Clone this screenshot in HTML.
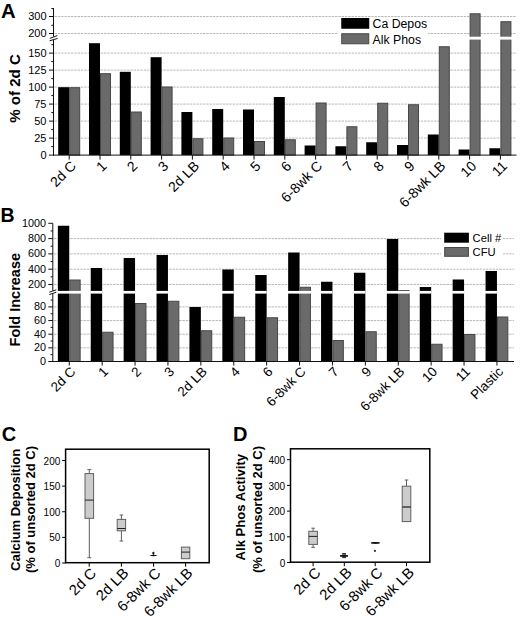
<!DOCTYPE html>
<html><head><meta charset="utf-8"><style>
html,body{margin:0;padding:0;background:#fff;}
body{width:520px;height:620px;overflow:hidden;}
svg{display:block;font-family:"Liberation Sans", sans-serif;}
</style></head><body>
<svg width="520" height="620" viewBox="0 0 520 620">
<rect x="0" y="0" width="520" height="620" fill="#fff"/>
<line x1="54.5" y1="138.1" x2="516.5" y2="138.1" stroke="#b9b9b9" stroke-width="1" stroke-dasharray="2.4 0.9"/>
<line x1="54.5" y1="121.1" x2="516.5" y2="121.1" stroke="#b9b9b9" stroke-width="1" stroke-dasharray="2.4 0.9"/>
<line x1="54.5" y1="104.1" x2="516.5" y2="104.1" stroke="#b9b9b9" stroke-width="1" stroke-dasharray="2.4 0.9"/>
<line x1="54.5" y1="87.1" x2="516.5" y2="87.1" stroke="#b9b9b9" stroke-width="1" stroke-dasharray="2.4 0.9"/>
<line x1="54.5" y1="70.1" x2="516.5" y2="70.1" stroke="#b9b9b9" stroke-width="1" stroke-dasharray="2.4 0.9"/>
<line x1="54.5" y1="53.1" x2="516.5" y2="53.1" stroke="#b9b9b9" stroke-width="1" stroke-dasharray="2.4 0.9"/>
<line x1="54.5" y1="33.5" x2="516.5" y2="33.5" stroke="#b9b9b9" stroke-width="1" stroke-dasharray="2.4 0.9"/>
<line x1="54.5" y1="16.5" x2="516.5" y2="16.5" stroke="#b9b9b9" stroke-width="1" stroke-dasharray="2.4 0.9"/>
<rect x="58.2" y="87.2" width="11" height="67.9" fill="#000"/>
<rect x="69.7" y="87.7" width="10" height="67.4" fill="#6a6a6a" stroke="#474747" stroke-width="1"/>
<rect x="89" y="43.2" width="11" height="111.9" fill="#000"/>
<rect x="100.5" y="73.7" width="10" height="81.4" fill="#6a6a6a" stroke="#474747" stroke-width="1"/>
<rect x="119.8" y="71.8" width="11" height="83.3" fill="#000"/>
<rect x="131.3" y="112" width="10" height="43.1" fill="#6a6a6a" stroke="#474747" stroke-width="1"/>
<rect x="150.6" y="57.2" width="11" height="97.9" fill="#000"/>
<rect x="162.1" y="87" width="10" height="68.1" fill="#6a6a6a" stroke="#474747" stroke-width="1"/>
<rect x="181.4" y="112" width="11" height="43.1" fill="#000"/>
<rect x="192.9" y="138.75" width="10" height="16.35" fill="#6a6a6a" stroke="#474747" stroke-width="1"/>
<rect x="212.2" y="109" width="11" height="46.1" fill="#000"/>
<rect x="223.7" y="138" width="10" height="17.1" fill="#6a6a6a" stroke="#474747" stroke-width="1"/>
<rect x="243" y="109.5" width="11" height="45.6" fill="#000"/>
<rect x="254.5" y="141.5" width="10" height="13.6" fill="#6a6a6a" stroke="#474747" stroke-width="1"/>
<rect x="273.8" y="97" width="11" height="58.1" fill="#000"/>
<rect x="285.3" y="139.75" width="10" height="15.35" fill="#6a6a6a" stroke="#474747" stroke-width="1"/>
<rect x="304.6" y="145.5" width="11" height="9.6" fill="#000"/>
<rect x="316.1" y="103" width="10" height="52.1" fill="#6a6a6a" stroke="#474747" stroke-width="1"/>
<rect x="335.4" y="146.25" width="11" height="8.85" fill="#000"/>
<rect x="346.9" y="126.75" width="10" height="28.35" fill="#6a6a6a" stroke="#474747" stroke-width="1"/>
<rect x="366.2" y="142.25" width="11" height="12.85" fill="#000"/>
<rect x="377.7" y="103.25" width="10" height="51.85" fill="#6a6a6a" stroke="#474747" stroke-width="1"/>
<rect x="397" y="145" width="11" height="10.1" fill="#000"/>
<rect x="408.5" y="104.75" width="10" height="50.35" fill="#6a6a6a" stroke="#474747" stroke-width="1"/>
<rect x="427.8" y="134.5" width="11" height="20.6" fill="#000"/>
<rect x="439.3" y="46.75" width="10" height="108.35" fill="#6a6a6a" stroke="#474747" stroke-width="1"/>
<rect x="458.6" y="149.5" width="11" height="5.6" fill="#000"/>
<rect x="470.1" y="13.8" width="10" height="141.3" fill="#6a6a6a" stroke="#474747" stroke-width="1"/>
<rect x="469.1" y="36.7" width="12.5" height="2.9" fill="#fff"/>
<rect x="489.4" y="148.25" width="11" height="6.85" fill="#000"/>
<rect x="500.9" y="21.7" width="10" height="133.4" fill="#6a6a6a" stroke="#474747" stroke-width="1"/>
<rect x="499.9" y="36.7" width="12.5" height="2.9" fill="#fff"/>
<rect x="338" y="17" width="90" height="29" fill="#fff"/>
<rect x="341.25" y="18" width="28" height="10.75" fill="#000"/>
<rect x="341.75" y="33.75" width="27" height="10" fill="#6a6a6a" stroke="#474747" stroke-width="1"/>
<text x="372.5" y="28.2" font-size="12.3" text-anchor="start" font-weight="normal" fill="#000" >Ca Depos</text>
<text x="372.5" y="43.6" font-size="12.3" text-anchor="start" font-weight="normal" fill="#000" >Alk Phos</text>
<line x1="53.5" y1="8" x2="53.5" y2="36.4" stroke="#111" stroke-width="1" />
<line x1="53.5" y1="39.9" x2="53.5" y2="155.6" stroke="#111" stroke-width="1" />
<line x1="53" y1="155.1" x2="516.5" y2="155.1" stroke="#111" stroke-width="1" />
<line x1="49.8" y1="38.4" x2="57.3" y2="35.6" stroke="#111" stroke-width="1" />
<line x1="49.6" y1="40.8" x2="57.6" y2="38.4" stroke="#111" stroke-width="1" />
<line x1="49" y1="155.1" x2="53.5" y2="155.1" stroke="#111" stroke-width="1" />
<text x="46.5" y="158.5" font-size="11" text-anchor="end" font-weight="normal" fill="#000" >0</text>
<line x1="51.3" y1="146.6" x2="53.5" y2="146.6" stroke="#111" stroke-width="1" />
<line x1="49" y1="138.1" x2="53.5" y2="138.1" stroke="#111" stroke-width="1" />
<text x="46.5" y="141.5" font-size="11" text-anchor="end" font-weight="normal" fill="#000" >25</text>
<line x1="51.3" y1="129.6" x2="53.5" y2="129.6" stroke="#111" stroke-width="1" />
<line x1="49" y1="121.1" x2="53.5" y2="121.1" stroke="#111" stroke-width="1" />
<text x="46.5" y="124.5" font-size="11" text-anchor="end" font-weight="normal" fill="#000" >50</text>
<line x1="51.3" y1="112.6" x2="53.5" y2="112.6" stroke="#111" stroke-width="1" />
<line x1="49" y1="104.1" x2="53.5" y2="104.1" stroke="#111" stroke-width="1" />
<text x="46.5" y="107.5" font-size="11" text-anchor="end" font-weight="normal" fill="#000" >75</text>
<line x1="51.3" y1="95.6" x2="53.5" y2="95.6" stroke="#111" stroke-width="1" />
<line x1="49" y1="87.1" x2="53.5" y2="87.1" stroke="#111" stroke-width="1" />
<text x="46.5" y="90.5" font-size="11" text-anchor="end" font-weight="normal" fill="#000" >100</text>
<line x1="51.3" y1="78.6" x2="53.5" y2="78.6" stroke="#111" stroke-width="1" />
<line x1="49" y1="70.1" x2="53.5" y2="70.1" stroke="#111" stroke-width="1" />
<text x="46.5" y="73.5" font-size="11" text-anchor="end" font-weight="normal" fill="#000" >125</text>
<line x1="51.3" y1="61.6" x2="53.5" y2="61.6" stroke="#111" stroke-width="1" />
<line x1="49" y1="53.1" x2="53.5" y2="53.1" stroke="#111" stroke-width="1" />
<text x="46.5" y="56.5" font-size="11" text-anchor="end" font-weight="normal" fill="#000" >150</text>
<line x1="51.3" y1="44.6" x2="53.5" y2="44.6" stroke="#111" stroke-width="1" />
<line x1="49" y1="33.5" x2="53.5" y2="33.5" stroke="#111" stroke-width="1" />
<text x="46.5" y="36.9" font-size="11" text-anchor="end" font-weight="normal" fill="#000" >200</text>
<line x1="51.3" y1="25.3" x2="53.5" y2="25.3" stroke="#111" stroke-width="1" />
<line x1="49" y1="16.5" x2="53.5" y2="16.5" stroke="#111" stroke-width="1" />
<text x="46.5" y="19.9" font-size="11" text-anchor="end" font-weight="normal" fill="#000" >300</text>
<line x1="51.3" y1="8.6" x2="53.5" y2="8.6" stroke="#111" stroke-width="1" />
<line x1="69.2" y1="155.1" x2="69.2" y2="159.6" stroke="#111" stroke-width="1" />
<text x="76.8" y="166.9" font-size="14" text-anchor="end" font-weight="normal" fill="#000" transform="rotate(-45 76.8 166.9)" >2d C</text>
<line x1="100" y1="155.1" x2="100" y2="159.6" stroke="#111" stroke-width="1" />
<text x="107.6" y="166.9" font-size="14" text-anchor="end" font-weight="normal" fill="#000" transform="rotate(-45 107.6 166.9)" >1</text>
<line x1="130.8" y1="155.1" x2="130.8" y2="159.6" stroke="#111" stroke-width="1" />
<text x="138.4" y="166.9" font-size="14" text-anchor="end" font-weight="normal" fill="#000" transform="rotate(-45 138.4 166.9)" >2</text>
<line x1="161.6" y1="155.1" x2="161.6" y2="159.6" stroke="#111" stroke-width="1" />
<text x="169.2" y="166.9" font-size="14" text-anchor="end" font-weight="normal" fill="#000" transform="rotate(-45 169.2 166.9)" >3</text>
<line x1="192.4" y1="155.1" x2="192.4" y2="159.6" stroke="#111" stroke-width="1" />
<text x="200" y="166.9" font-size="14" text-anchor="end" font-weight="normal" fill="#000" transform="rotate(-45 200 166.9)" >2d LB</text>
<line x1="223.2" y1="155.1" x2="223.2" y2="159.6" stroke="#111" stroke-width="1" />
<text x="230.8" y="166.9" font-size="14" text-anchor="end" font-weight="normal" fill="#000" transform="rotate(-45 230.8 166.9)" >4</text>
<line x1="254" y1="155.1" x2="254" y2="159.6" stroke="#111" stroke-width="1" />
<text x="261.6" y="166.9" font-size="14" text-anchor="end" font-weight="normal" fill="#000" transform="rotate(-45 261.6 166.9)" >5</text>
<line x1="284.8" y1="155.1" x2="284.8" y2="159.6" stroke="#111" stroke-width="1" />
<text x="292.4" y="166.9" font-size="14" text-anchor="end" font-weight="normal" fill="#000" transform="rotate(-45 292.4 166.9)" >6</text>
<line x1="315.6" y1="155.1" x2="315.6" y2="159.6" stroke="#111" stroke-width="1" />
<text x="323.2" y="166.9" font-size="14" text-anchor="end" font-weight="normal" fill="#000" transform="rotate(-45 323.2 166.9)" >6-8wk C</text>
<line x1="346.4" y1="155.1" x2="346.4" y2="159.6" stroke="#111" stroke-width="1" />
<text x="354" y="166.9" font-size="14" text-anchor="end" font-weight="normal" fill="#000" transform="rotate(-45 354 166.9)" >7</text>
<line x1="377.2" y1="155.1" x2="377.2" y2="159.6" stroke="#111" stroke-width="1" />
<text x="384.8" y="166.9" font-size="14" text-anchor="end" font-weight="normal" fill="#000" transform="rotate(-45 384.8 166.9)" >8</text>
<line x1="408" y1="155.1" x2="408" y2="159.6" stroke="#111" stroke-width="1" />
<text x="415.6" y="166.9" font-size="14" text-anchor="end" font-weight="normal" fill="#000" transform="rotate(-45 415.6 166.9)" >9</text>
<line x1="438.8" y1="155.1" x2="438.8" y2="159.6" stroke="#111" stroke-width="1" />
<text x="446.4" y="166.9" font-size="14" text-anchor="end" font-weight="normal" fill="#000" transform="rotate(-45 446.4 166.9)" >6-8wk LB</text>
<line x1="469.6" y1="155.1" x2="469.6" y2="159.6" stroke="#111" stroke-width="1" />
<text x="477.2" y="166.9" font-size="14" text-anchor="end" font-weight="normal" fill="#000" transform="rotate(-45 477.2 166.9)" >10</text>
<line x1="500.4" y1="155.1" x2="500.4" y2="159.6" stroke="#111" stroke-width="1" />
<text x="508" y="166.9" font-size="14" text-anchor="end" font-weight="normal" fill="#000" transform="rotate(-45 508 166.9)" >11</text>
<text x="19.9" y="88.5" font-size="15.1" text-anchor="middle" font-weight="bold" fill="#000" transform="rotate(-90 19.9 88.5)" >% of 2d C</text>
<text x="0.9" y="17.5" font-size="20.3" text-anchor="start" font-weight="bold" fill="#000" >A</text>
<line x1="53.8" y1="347.85" x2="514" y2="347.85" stroke="#b9b9b9" stroke-width="1" stroke-dasharray="2.4 0.9"/>
<line x1="53.8" y1="334.2" x2="514" y2="334.2" stroke="#b9b9b9" stroke-width="1" stroke-dasharray="2.4 0.9"/>
<line x1="53.8" y1="320.55" x2="514" y2="320.55" stroke="#b9b9b9" stroke-width="1" stroke-dasharray="2.4 0.9"/>
<line x1="53.8" y1="306.9" x2="514" y2="306.9" stroke="#b9b9b9" stroke-width="1" stroke-dasharray="2.4 0.9"/>
<line x1="53.8" y1="284.5" x2="514" y2="284.5" stroke="#b9b9b9" stroke-width="1" stroke-dasharray="2.4 0.9"/>
<line x1="53.8" y1="269.2" x2="514" y2="269.2" stroke="#b9b9b9" stroke-width="1" stroke-dasharray="2.4 0.9"/>
<line x1="53.8" y1="253.9" x2="514" y2="253.9" stroke="#b9b9b9" stroke-width="1" stroke-dasharray="2.4 0.9"/>
<line x1="53.8" y1="238.6" x2="514" y2="238.6" stroke="#b9b9b9" stroke-width="1" stroke-dasharray="2.4 0.9"/>
<rect x="57.85" y="225.75" width="11.4" height="135.75" fill="#000"/>
<rect x="69.75" y="280" width="10.4" height="81.5" fill="#6a6a6a" stroke="#474747" stroke-width="1"/>
<rect x="57.35" y="290.9" width="11.9" height="2.7" fill="#fff"/>
<rect x="68.75" y="290.9" width="12.9" height="2.7" fill="#fff"/>
<rect x="90.75" y="268" width="11.4" height="93.5" fill="#000"/>
<rect x="102.65" y="332.25" width="10.4" height="29.25" fill="#6a6a6a" stroke="#474747" stroke-width="1"/>
<rect x="90.25" y="290.9" width="11.9" height="2.7" fill="#fff"/>
<rect x="123.65" y="258" width="11.4" height="103.5" fill="#000"/>
<rect x="135.55" y="303.5" width="10.4" height="58" fill="#6a6a6a" stroke="#474747" stroke-width="1"/>
<rect x="123.15" y="290.9" width="11.9" height="2.7" fill="#fff"/>
<rect x="156.55" y="255" width="11.4" height="106.5" fill="#000"/>
<rect x="168.45" y="301.25" width="10.4" height="60.25" fill="#6a6a6a" stroke="#474747" stroke-width="1"/>
<rect x="156.05" y="290.9" width="11.9" height="2.7" fill="#fff"/>
<rect x="189.45" y="307" width="11.4" height="54.5" fill="#000"/>
<rect x="201.35" y="330.75" width="10.4" height="30.75" fill="#6a6a6a" stroke="#474747" stroke-width="1"/>
<rect x="222.35" y="269.5" width="11.4" height="92" fill="#000"/>
<rect x="234.25" y="317.25" width="10.4" height="44.25" fill="#6a6a6a" stroke="#474747" stroke-width="1"/>
<rect x="221.85" y="290.9" width="11.9" height="2.7" fill="#fff"/>
<rect x="255.25" y="275" width="11.4" height="86.5" fill="#000"/>
<rect x="267.15" y="317.75" width="10.4" height="43.75" fill="#6a6a6a" stroke="#474747" stroke-width="1"/>
<rect x="254.75" y="290.9" width="11.9" height="2.7" fill="#fff"/>
<rect x="288.15" y="252.5" width="11.4" height="109" fill="#000"/>
<rect x="300.05" y="287.25" width="10.4" height="74.25" fill="#6a6a6a" stroke="#474747" stroke-width="1"/>
<rect x="287.65" y="290.9" width="11.9" height="2.7" fill="#fff"/>
<rect x="299.05" y="290.9" width="12.9" height="2.7" fill="#fff"/>
<rect x="321.05" y="281.75" width="11.4" height="79.75" fill="#000"/>
<rect x="332.95" y="340.5" width="10.4" height="21" fill="#6a6a6a" stroke="#474747" stroke-width="1"/>
<rect x="320.55" y="290.9" width="11.9" height="2.7" fill="#fff"/>
<rect x="353.95" y="272.75" width="11.4" height="88.75" fill="#000"/>
<rect x="365.85" y="331.75" width="10.4" height="29.75" fill="#6a6a6a" stroke="#474747" stroke-width="1"/>
<rect x="353.45" y="290.9" width="11.9" height="2.7" fill="#fff"/>
<rect x="386.85" y="239" width="11.4" height="122.5" fill="#000"/>
<rect x="398.75" y="290.5" width="10.4" height="71" fill="#6a6a6a" stroke="#474747" stroke-width="1"/>
<rect x="386.35" y="290.9" width="11.9" height="2.7" fill="#fff"/>
<rect x="397.75" y="290.9" width="12.9" height="2.7" fill="#fff"/>
<rect x="419.75" y="287" width="11.4" height="74.5" fill="#000"/>
<rect x="431.65" y="344.25" width="10.4" height="17.25" fill="#6a6a6a" stroke="#474747" stroke-width="1"/>
<rect x="419.25" y="290.9" width="11.9" height="2.7" fill="#fff"/>
<rect x="452.65" y="279.5" width="11.4" height="82" fill="#000"/>
<rect x="464.55" y="334.5" width="10.4" height="27" fill="#6a6a6a" stroke="#474747" stroke-width="1"/>
<rect x="452.15" y="290.9" width="11.9" height="2.7" fill="#fff"/>
<rect x="485.55" y="271" width="11.4" height="90.5" fill="#000"/>
<rect x="497.45" y="317" width="10.4" height="44.5" fill="#6a6a6a" stroke="#474747" stroke-width="1"/>
<rect x="485.05" y="290.9" width="11.9" height="2.7" fill="#fff"/>
<rect x="441" y="230" width="62" height="29" fill="#fff"/>
<rect x="444.2" y="232.7" width="24.7" height="10" fill="#000"/>
<rect x="444.7" y="247.5" width="23.7" height="8.8" fill="#6a6a6a" stroke="#474747" stroke-width="1"/>
<text x="472.6" y="241.7" font-size="11.2" text-anchor="start" font-weight="normal" fill="#000" >Cell #</text>
<text x="472.6" y="256.2" font-size="11.2" text-anchor="start" font-weight="normal" fill="#000" >CFU</text>
<line x1="52.8" y1="223.3" x2="52.8" y2="290.7" stroke="#111" stroke-width="1" />
<line x1="52.8" y1="293.8" x2="52.8" y2="362" stroke="#111" stroke-width="1" />
<line x1="52.3" y1="361.5" x2="514" y2="361.5" stroke="#111" stroke-width="1" />
<line x1="49.3" y1="292.2" x2="56.3" y2="289.8" stroke="#111" stroke-width="1" />
<line x1="49.3" y1="294.6" x2="56.3" y2="292.2" stroke="#111" stroke-width="1" />
<line x1="48.3" y1="361.5" x2="52.8" y2="361.5" stroke="#111" stroke-width="1" />
<text x="46" y="364.9" font-size="10.8" text-anchor="end" font-weight="normal" fill="#000" >0</text>
<line x1="50.6" y1="354.68" x2="52.8" y2="354.68" stroke="#111" stroke-width="1" />
<line x1="48.3" y1="347.85" x2="52.8" y2="347.85" stroke="#111" stroke-width="1" />
<text x="46" y="351.25" font-size="10.8" text-anchor="end" font-weight="normal" fill="#000" >20</text>
<line x1="50.6" y1="341.02" x2="52.8" y2="341.02" stroke="#111" stroke-width="1" />
<line x1="48.3" y1="334.2" x2="52.8" y2="334.2" stroke="#111" stroke-width="1" />
<text x="46" y="337.6" font-size="10.8" text-anchor="end" font-weight="normal" fill="#000" >40</text>
<line x1="50.6" y1="327.38" x2="52.8" y2="327.38" stroke="#111" stroke-width="1" />
<line x1="48.3" y1="320.55" x2="52.8" y2="320.55" stroke="#111" stroke-width="1" />
<text x="46" y="323.95" font-size="10.8" text-anchor="end" font-weight="normal" fill="#000" >60</text>
<line x1="50.6" y1="313.73" x2="52.8" y2="313.73" stroke="#111" stroke-width="1" />
<line x1="48.3" y1="306.9" x2="52.8" y2="306.9" stroke="#111" stroke-width="1" />
<text x="46" y="310.3" font-size="10.8" text-anchor="end" font-weight="normal" fill="#000" >80</text>
<line x1="50.6" y1="300.07" x2="52.8" y2="300.07" stroke="#111" stroke-width="1" />
<line x1="48.3" y1="284.5" x2="52.8" y2="284.5" stroke="#111" stroke-width="1" />
<text x="46" y="287.9" font-size="10.8" text-anchor="end" font-weight="normal" fill="#000" >200</text>
<line x1="50.6" y1="276.85" x2="52.8" y2="276.85" stroke="#111" stroke-width="1" />
<line x1="48.3" y1="269.2" x2="52.8" y2="269.2" stroke="#111" stroke-width="1" />
<text x="46" y="272.6" font-size="10.8" text-anchor="end" font-weight="normal" fill="#000" >400</text>
<line x1="50.6" y1="261.55" x2="52.8" y2="261.55" stroke="#111" stroke-width="1" />
<line x1="48.3" y1="253.9" x2="52.8" y2="253.9" stroke="#111" stroke-width="1" />
<text x="46" y="257.3" font-size="10.8" text-anchor="end" font-weight="normal" fill="#000" >600</text>
<line x1="50.6" y1="246.25" x2="52.8" y2="246.25" stroke="#111" stroke-width="1" />
<line x1="48.3" y1="238.6" x2="52.8" y2="238.6" stroke="#111" stroke-width="1" />
<text x="46" y="242" font-size="10.8" text-anchor="end" font-weight="normal" fill="#000" >800</text>
<line x1="50.6" y1="230.95" x2="52.8" y2="230.95" stroke="#111" stroke-width="1" />
<line x1="48.3" y1="223.3" x2="52.8" y2="223.3" stroke="#111" stroke-width="1" />
<text x="46" y="226.7" font-size="10.8" text-anchor="end" font-weight="normal" fill="#000" >1000</text>
<line x1="69.25" y1="361.5" x2="69.25" y2="365.5" stroke="#111" stroke-width="1" />
<text x="76.25" y="372.4" font-size="13.4" text-anchor="end" font-weight="normal" fill="#000" transform="rotate(-45 76.25 372.4)" >2d C</text>
<line x1="102.15" y1="361.5" x2="102.15" y2="365.5" stroke="#111" stroke-width="1" />
<text x="109.15" y="372.4" font-size="13.4" text-anchor="end" font-weight="normal" fill="#000" transform="rotate(-45 109.15 372.4)" >1</text>
<line x1="135.05" y1="361.5" x2="135.05" y2="365.5" stroke="#111" stroke-width="1" />
<text x="142.05" y="372.4" font-size="13.4" text-anchor="end" font-weight="normal" fill="#000" transform="rotate(-45 142.05 372.4)" >2</text>
<line x1="167.95" y1="361.5" x2="167.95" y2="365.5" stroke="#111" stroke-width="1" />
<text x="174.95" y="372.4" font-size="13.4" text-anchor="end" font-weight="normal" fill="#000" transform="rotate(-45 174.95 372.4)" >3</text>
<line x1="200.85" y1="361.5" x2="200.85" y2="365.5" stroke="#111" stroke-width="1" />
<text x="207.85" y="372.4" font-size="13.4" text-anchor="end" font-weight="normal" fill="#000" transform="rotate(-45 207.85 372.4)" >2d LB</text>
<line x1="233.75" y1="361.5" x2="233.75" y2="365.5" stroke="#111" stroke-width="1" />
<text x="240.75" y="372.4" font-size="13.4" text-anchor="end" font-weight="normal" fill="#000" transform="rotate(-45 240.75 372.4)" >4</text>
<line x1="266.65" y1="361.5" x2="266.65" y2="365.5" stroke="#111" stroke-width="1" />
<text x="273.65" y="372.4" font-size="13.4" text-anchor="end" font-weight="normal" fill="#000" transform="rotate(-45 273.65 372.4)" >6</text>
<line x1="299.55" y1="361.5" x2="299.55" y2="365.5" stroke="#111" stroke-width="1" />
<text x="306.55" y="372.4" font-size="13.4" text-anchor="end" font-weight="normal" fill="#000" transform="rotate(-45 306.55 372.4)" >6-8wk C</text>
<line x1="332.45" y1="361.5" x2="332.45" y2="365.5" stroke="#111" stroke-width="1" />
<text x="339.45" y="372.4" font-size="13.4" text-anchor="end" font-weight="normal" fill="#000" transform="rotate(-45 339.45 372.4)" >7</text>
<line x1="365.35" y1="361.5" x2="365.35" y2="365.5" stroke="#111" stroke-width="1" />
<text x="372.35" y="372.4" font-size="13.4" text-anchor="end" font-weight="normal" fill="#000" transform="rotate(-45 372.35 372.4)" >9</text>
<line x1="398.25" y1="361.5" x2="398.25" y2="365.5" stroke="#111" stroke-width="1" />
<text x="405.25" y="372.4" font-size="13.4" text-anchor="end" font-weight="normal" fill="#000" transform="rotate(-45 405.25 372.4)" >6-8wk LB</text>
<line x1="431.15" y1="361.5" x2="431.15" y2="365.5" stroke="#111" stroke-width="1" />
<text x="438.15" y="372.4" font-size="13.4" text-anchor="end" font-weight="normal" fill="#000" transform="rotate(-45 438.15 372.4)" >10</text>
<line x1="464.05" y1="361.5" x2="464.05" y2="365.5" stroke="#111" stroke-width="1" />
<text x="471.05" y="372.4" font-size="13.4" text-anchor="end" font-weight="normal" fill="#000" transform="rotate(-45 471.05 372.4)" >11</text>
<line x1="496.95" y1="361.5" x2="496.95" y2="365.5" stroke="#111" stroke-width="1" />
<text x="503.95" y="372.4" font-size="13.4" text-anchor="end" font-weight="normal" fill="#000" transform="rotate(-45 503.95 372.4)" >Plastic</text>
<text x="20.1" y="299.7" font-size="14.5" text-anchor="middle" font-weight="bold" fill="#000" transform="rotate(-90 20.1 299.7)" >Fold Increase</text>
<text x="0.5" y="222.1" font-size="19.5" text-anchor="start" font-weight="bold" fill="#000" >B</text>
<line x1="89.3" y1="469.6" x2="89.3" y2="473.6" stroke="#606060" stroke-width="1" />
<line x1="87.3" y1="469.6" x2="91.3" y2="469.6" stroke="#606060" stroke-width="1" />
<line x1="89.3" y1="518.3" x2="89.3" y2="557.7" stroke="#606060" stroke-width="1" />
<line x1="87.3" y1="557.7" x2="91.3" y2="557.7" stroke="#606060" stroke-width="1" />
<rect x="85" y="473.6" width="8.6" height="44.7" fill="#cccccc" stroke="#606060" stroke-width="1"/>
<line x1="85" y1="500.1" x2="93.6" y2="500.1" stroke="#222" stroke-width="1" />
<line x1="121.4" y1="515" x2="121.4" y2="519.4" stroke="#606060" stroke-width="1" />
<line x1="119.6" y1="515" x2="123.2" y2="515" stroke="#606060" stroke-width="1" />
<line x1="121.4" y1="530.8" x2="121.4" y2="541" stroke="#606060" stroke-width="1" />
<line x1="119.6" y1="541" x2="123.2" y2="541" stroke="#606060" stroke-width="1" />
<rect x="117.2" y="519.4" width="8.4" height="11.4" fill="#cccccc" stroke="#606060" stroke-width="1"/>
<line x1="117.2" y1="528.5" x2="125.6" y2="528.5" stroke="#222" stroke-width="1" />
<line x1="153.4" y1="553" x2="153.4" y2="555.5" stroke="#333" stroke-width="1" />
<path d="M153.4 551.6 L154.9 553.1 L153.4 554.4 L151.9 553.1 Z" fill="#222"/>
<path d="M149.2 555.4 Q153.5 554.3 157.8 555.4 Q153.5 557.0 149.2 555.4 Z" fill="#111"/>
<rect x="181.4" y="547.1" width="8.4" height="11.6" fill="#cccccc" stroke="#606060" stroke-width="1"/>
<line x1="181.4" y1="552.1" x2="189.8" y2="552.1" stroke="#222" stroke-width="1" />
<rect x="65.6" y="449.2" width="143.6" height="113.5" fill="none" stroke="#000" stroke-width="1.5"/>
<line x1="62.1" y1="563" x2="65.6" y2="563" stroke="#000" stroke-width="1" />
<text x="60.3" y="567.1" font-size="10" text-anchor="end" font-weight="normal" fill="#000" >0</text>
<line x1="62.1" y1="537.38" x2="65.6" y2="537.38" stroke="#000" stroke-width="1" />
<text x="60.3" y="541.48" font-size="10" text-anchor="end" font-weight="normal" fill="#000" >50</text>
<line x1="62.1" y1="511.75" x2="65.6" y2="511.75" stroke="#000" stroke-width="1" />
<text x="60.3" y="515.85" font-size="10" text-anchor="end" font-weight="normal" fill="#000" >100</text>
<line x1="62.1" y1="486.12" x2="65.6" y2="486.12" stroke="#000" stroke-width="1" />
<text x="60.3" y="490.23" font-size="10" text-anchor="end" font-weight="normal" fill="#000" >150</text>
<line x1="62.1" y1="460.5" x2="65.6" y2="460.5" stroke="#000" stroke-width="1" />
<text x="60.3" y="464.6" font-size="10" text-anchor="end" font-weight="normal" fill="#000" >200</text>
<line x1="89.2" y1="562.7" x2="89.2" y2="566.7" stroke="#000" stroke-width="1" />
<text x="97.2" y="574.1" font-size="14.8" text-anchor="end" font-weight="normal" fill="#000" transform="rotate(-45 97.2 574.1)" >2d C</text>
<line x1="121.4" y1="562.7" x2="121.4" y2="566.7" stroke="#000" stroke-width="1" />
<text x="129.4" y="574.1" font-size="14.8" text-anchor="end" font-weight="normal" fill="#000" transform="rotate(-45 129.4 574.1)" >2d LB</text>
<line x1="153.6" y1="562.7" x2="153.6" y2="566.7" stroke="#000" stroke-width="1" />
<text x="161.6" y="574.1" font-size="14.8" text-anchor="end" font-weight="normal" fill="#000" transform="rotate(-45 161.6 574.1)" >6-8wk C</text>
<line x1="185.6" y1="562.7" x2="185.6" y2="566.7" stroke="#000" stroke-width="1" />
<text x="193.6" y="574.1" font-size="14.8" text-anchor="end" font-weight="normal" fill="#000" transform="rotate(-45 193.6 574.1)" >6-8wk LB</text>
<text x="20.5" y="509.8" font-size="13.1" text-anchor="middle" font-weight="bold" fill="#000" transform="rotate(-90 20.5 509.8)" >Calcium Deposition</text>
<text x="35.3" y="509.5" font-size="13" text-anchor="middle" font-weight="bold" fill="#000" transform="rotate(-90 35.3 509.5)" >(% of unsorted 2d C)</text>
<text x="1.8" y="440.8" font-size="20" text-anchor="start" font-weight="bold" fill="#000" >C</text>
<line x1="313.1" y1="528.2" x2="313.1" y2="531.3" stroke="#606060" stroke-width="1" />
<line x1="311.3" y1="528.2" x2="314.9" y2="528.2" stroke="#606060" stroke-width="1" />
<line x1="313.1" y1="544.4" x2="313.1" y2="547.4" stroke="#606060" stroke-width="1" />
<line x1="311.3" y1="547.4" x2="314.9" y2="547.4" stroke="#606060" stroke-width="1" />
<rect x="308.8" y="531.3" width="8.6" height="13.1" fill="#cccccc" stroke="#606060" stroke-width="1"/>
<line x1="308.8" y1="536.4" x2="317.4" y2="536.4" stroke="#222" stroke-width="1" />
<rect x="342.2" y="553.2" width="3.8" height="4.8" fill="#666"/>
<rect x="340" y="555.1" width="8" height="1.7" fill="#111"/>
<rect x="342.3" y="553" width="3.5" height="1.1" fill="#333"/>
<rect x="342.5" y="557" width="3.3" height="1.1" fill="#333"/>
<path d="M371 542.9 Q375.4 541.3 379.8 542.9 Q375.4 544.4 371 542.9 Z" fill="#000"/>
<rect x="371.2" y="542.2" width="8.4" height="1.4" fill="#111"/>
<rect x="374" y="549.9" width="1.9" height="1.9" fill="#333"/>
<line x1="406.5" y1="480" x2="406.5" y2="486.2" stroke="#606060" stroke-width="1" />
<line x1="404.7" y1="480" x2="408.3" y2="480" stroke="#606060" stroke-width="1" />
<rect x="402.2" y="486.2" width="8.6" height="35.4" fill="#cccccc" stroke="#606060" stroke-width="1"/>
<line x1="402.2" y1="507" x2="410.8" y2="507" stroke="#444" stroke-width="1.6" />
<rect x="290.5" y="448.8" width="139.3" height="113.4" fill="none" stroke="#000" stroke-width="1.5"/>
<line x1="287" y1="562.5" x2="290.5" y2="562.5" stroke="#000" stroke-width="1" />
<text x="285.2" y="566.6" font-size="10" text-anchor="end" font-weight="normal" fill="#000" >0</text>
<line x1="287" y1="536.8" x2="290.5" y2="536.8" stroke="#000" stroke-width="1" />
<text x="285.2" y="540.9" font-size="10" text-anchor="end" font-weight="normal" fill="#000" >100</text>
<line x1="287" y1="511.1" x2="290.5" y2="511.1" stroke="#000" stroke-width="1" />
<text x="285.2" y="515.2" font-size="10" text-anchor="end" font-weight="normal" fill="#000" >200</text>
<line x1="287" y1="485.4" x2="290.5" y2="485.4" stroke="#000" stroke-width="1" />
<text x="285.2" y="489.5" font-size="10" text-anchor="end" font-weight="normal" fill="#000" >300</text>
<line x1="287" y1="459.7" x2="290.5" y2="459.7" stroke="#000" stroke-width="1" />
<text x="285.2" y="463.8" font-size="10" text-anchor="end" font-weight="normal" fill="#000" >400</text>
<line x1="313.1" y1="562.2" x2="313.1" y2="566.2" stroke="#000" stroke-width="1" />
<text x="321.6" y="573.6" font-size="14.8" text-anchor="end" font-weight="normal" fill="#000" transform="rotate(-45 321.6 573.6)" >2d C</text>
<line x1="344.3" y1="562.2" x2="344.3" y2="566.2" stroke="#000" stroke-width="1" />
<text x="352.8" y="573.6" font-size="14.8" text-anchor="end" font-weight="normal" fill="#000" transform="rotate(-45 352.8 573.6)" >2d LB</text>
<line x1="375.2" y1="562.2" x2="375.2" y2="566.2" stroke="#000" stroke-width="1" />
<text x="383.7" y="573.6" font-size="14.8" text-anchor="end" font-weight="normal" fill="#000" transform="rotate(-45 383.7 573.6)" >6-8wk C</text>
<line x1="406.5" y1="562.2" x2="406.5" y2="566.2" stroke="#000" stroke-width="1" />
<text x="415" y="573.6" font-size="14.8" text-anchor="end" font-weight="normal" fill="#000" transform="rotate(-45 415 573.6)" >6-8wk LB</text>
<text x="245.5" y="507.2" font-size="13.1" text-anchor="middle" font-weight="bold" fill="#000" transform="rotate(-90 245.5 507.2)" >Alk Phos Activity</text>
<text x="261.5" y="509.5" font-size="13" text-anchor="middle" font-weight="bold" fill="#000" transform="rotate(-90 261.5 509.5)" >(% of unsorted 2d C)</text>
<text x="232.9" y="440.6" font-size="20" text-anchor="start" font-weight="bold" fill="#000" >D</text>
</svg>
</body></html>
